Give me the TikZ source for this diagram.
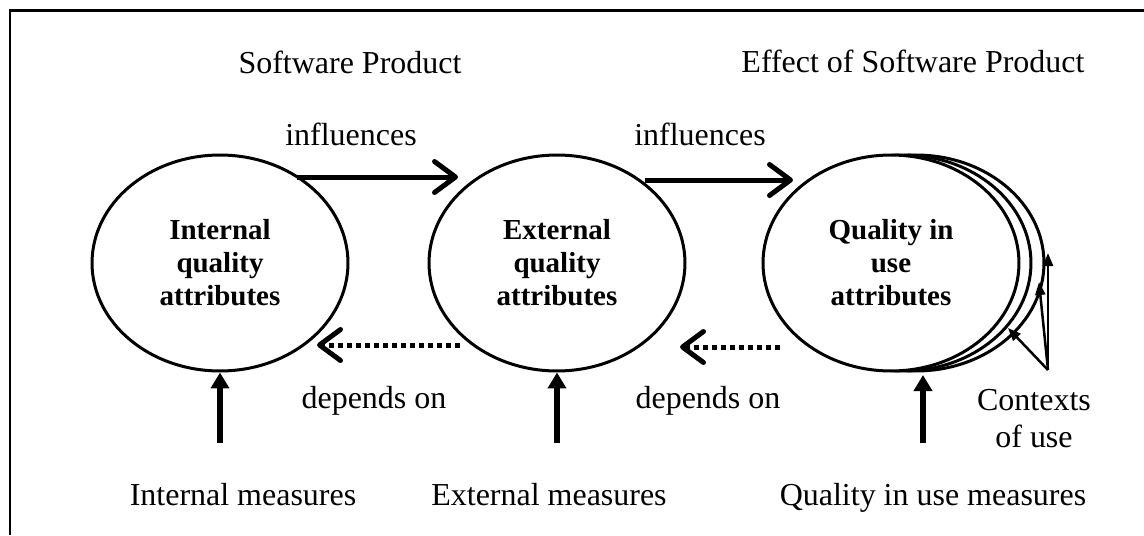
\documentclass[tikz,border=0pt]{standalone}
\usepackage{fontspec}
\setmainfont{Liberation Serif}
\usetikzlibrary{shapes.geometric,arrows.meta}

\begin{document}
\begin{tikzpicture}[x=0.02cm, y=-0.02cm,
	bubble/.style={ellipse, draw, fill=white, line width=0.06cm, minimum width=5.12cm, minimum height=4.32cm, inner sep=0, align=center, font=\fontsize{16.5}{18.8}\selectfont\bfseries},
	lbl/.style={font=\fontsize{18.2}{21}\selectfont, inner sep=0, anchor=base},
	infl/.style={line width=0.1cm, -{Straight Barb[length=0.42cm, width=0.62cm, round]}},
	dep/.style={infl, dash pattern=on 0.1cm off 0.08cm},
	measure/.style={line width=0.11cm, -{Triangle[length=0.32cm, width=0.36cm]}},
	ctxline/.style={line width=0.05cm, -{Triangle[length=0.26cm, width=0.2cm]}}
]
\useasboundingbox (0,0) rectangle (1144,535);
%frame
\draw[line width=0.06cm] (10,535) -- (10,10) -- (1144,10);

\node[lbl] (sw) at (350,73) {Software Product};
\node[lbl] (eff) at (913,72) {Effect of Software Product};

\node[bubble] (int) at (220,263) {Internal\\quality\\attributes};
\node[bubble] (ext) at (557,263) {External\\quality\\attributes};
\node[bubble] (qiu3) at (916,263) {};
\node[bubble] (qiu2) at (903,263) {};
\node[bubble] (qiu) at (891,263) {Quality in\\use\\attributes};

\node[lbl] (inf1) at (351,145) {influences};
\node[lbl] (inf2) at (700,145) {influences};
\node[lbl] (dep1) at (374,408) {depends on};
\node[lbl] (dep2) at (708,408) {depends on};

\node[lbl] (im) at (243,505) {Internal measures};
\node[lbl] (em) at (549,505) {External measures};
\node[lbl] (qm) at (933,505) {Quality in use measures};
\node[lbl, align=center] (ctx) at (1034,447) {Contexts\\of use};

\coordinate (i1s) at (297,177);
\coordinate (i1e) at (458,177);
\coordinate (i2s) at (645,180);
\coordinate (i2e) at (793,180);
\coordinate (d1s) at (460,345);
\coordinate (d1e) at (317,345);
\coordinate (d2s) at (780,347);
\coordinate (d2e) at (680,347);
\coordinate (m1) at (220,443);
\coordinate (m2) at (557,443);
\coordinate (m3) at (923,443);
\coordinate (m3t) at (923,375);
\coordinate (cx) at (1048,370);
\coordinate (c1) at (1048,253);
\coordinate (c2) at (1039,282);
\coordinate (c3) at (1008,328);

\draw[infl] (i1s) -- (i1e);
\draw[infl] (i2s) -- (i2e);
\draw[dep] (d1s) -- (d1e);
\draw[dep] (d2s) -- (d2e);
\draw[measure] (m1) -- (m1 |- int.south);
\draw[measure] (m2) -- (m2 |- ext.south);
\draw[measure] (m3) -- (m3t);
\draw[ctxline] (cx) -- (c1);
\draw[ctxline] (cx) -- (c2);
\draw[ctxline] (cx) -- (c3);
\end{tikzpicture}
\end{document}
